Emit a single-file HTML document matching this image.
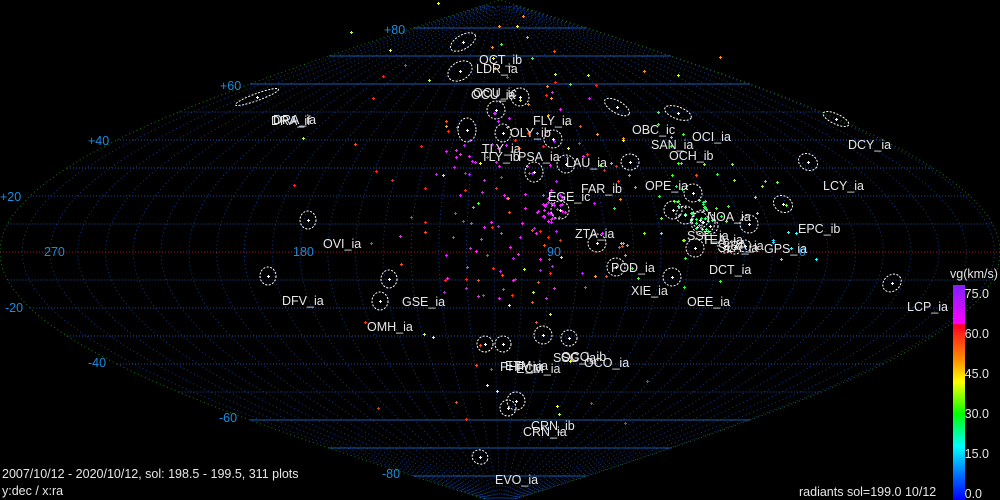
<!DOCTYPE html>
<html><head><meta charset="utf-8"><style>
html,body{margin:0;padding:0;background:#000;width:1000px;height:500px;overflow:hidden}
svg{display:block}
text{font-family:"Liberation Sans",sans-serif;font-size:12.5px}
.l{fill:#e6e6e6}
.d{fill:#1a8ce0}
</style></head><body>
<svg id="s" width="1000" height="500" viewBox="0 0 1000 500" xmlns="http://www.w3.org/2000/svg">
<rect width="1000" height="500" fill="#000"/>
<g id="grid"></g>
<g id="pts"></g>
<g id="ell" fill="none" stroke="#fff" stroke-width="1" stroke-dasharray="2 1.5"></g>
<g class="d">
<text x="384" y="34">+80</text><text x="220" y="90">+60</text><text x="88" y="145">+40</text><text x="0" y="201">+20</text>
<text x="5" y="312">-20</text><text x="88" y="367">-40</text><text x="219" y="422">-60</text><text x="382" y="478">-80</text>
<text x="44" y="256">270</text><text x="293" y="256">180</text><text x="547" y="256">90</text><text x="799" y="256">0</text>
</g>
<g class="l">
<text x="479" y="64">OCT_ib</text><text x="476" y="73">LDR_ia</text>
<text x="471" y="99">OCU_ia</text><text x="473" y="97">OCU_ic</text>
<text x="271" y="125">DRA_if</text><text x="273" y="124">DRA_ia</text>
<text x="533" y="125">FLY_ia</text><text x="510" y="137">OLY_ib</text>
<text x="632" y="134">OBC_ic</text><text x="692" y="141">OCI_ia</text><text x="651" y="149">SAN_ia</text>
<text x="482" y="153">TLY_ia</text><text x="848" y="149">DCY_ia</text><text x="669" y="160">OCH_ib</text>
<text x="481" y="161">TLY_ib</text><text x="518" y="161">PSA_ia</text><text x="566" y="167">LAU_ia</text>
<text x="581" y="193">FAR_ib</text><text x="823" y="190">LCY_ia</text><text x="645" y="190">OPE_ia</text>
<text x="548" y="201">EGE_ic</text><text x="707" y="221">NOA_ia</text><text x="798" y="233">EPC_ib</text>
<text x="575" y="238">ZTA_ia</text><text x="687" y="240">SSE_ia</text><text x="702" y="244">TEA_ia</text>
<text x="323" y="248">OVI_ia</text><text x="764" y="253">GPS_ia</text><text x="718" y="252">SLA_ia</text><text x="722" y="250">SSA_ia</text>
<text x="611" y="272">POD_ia</text><text x="709" y="274">DCT_ia</text><text x="631" y="295">XIE_ia</text>
<text x="282" y="305">DFV_ia</text><text x="402" y="306">GSE_ia</text><text x="687" y="306">OEE_ia</text><text x="907" y="311">LCP_ia</text>
<text x="367" y="331">OMH_ia</text><text x="553" y="362">SSG_ia</text><text x="561" y="361">OCO_ib</text><text x="584" y="367">OCO_ia</text>
<text x="500" y="371">PHP_ia</text><text x="505" y="370">ETM_ia</text><text x="516" y="373">ECM_ia</text>
<text x="531" y="430">CRN_ib</text><text x="523" y="436">CRN_ia</text><text x="495" y="484">EVO_ia</text>
<text x="2" y="478">2007/10/12 - 2020/10/12,  sol: 198.5 - 199.5, 311 plots</text>
<text x="2" y="495">y:dec / x:ra</text>
<text x="799" y="496">radiants sol=199.0 10/12</text>
<text x="950" y="278">vg(km/s)</text>
<text x="957" y="298">- 75.0</text><text x="957" y="338">- 60.0</text><text x="957" y="378">- 45.0</text>
<text x="957" y="418">- 30.0</text><text x="957" y="458">- 15.0</text><text x="957" y="498">- 0.0</text>
</g>
<defs><linearGradient id="cb" x1="0" y1="0" x2="0" y2="1">
<stop offset="0" stop-color="#8020ff"/><stop offset="0.18" stop-color="#ff00ff"/><stop offset="0.185" stop-color="#ff0020"/>
<stop offset="0.35" stop-color="#ff9000"/><stop offset="0.45" stop-color="#ffff00"/><stop offset="0.6" stop-color="#00ff00"/>
<stop offset="0.75" stop-color="#00ffff"/><stop offset="0.9" stop-color="#0060ff"/><stop offset="1" stop-color="#0000ff"/>
</linearGradient></defs>
<rect x="953" y="285" width="12" height="215" fill="url(#cb)"/>
</svg>
<script>
var NS="http://www.w3.org/2000/svg";
function el(p,t,a){var e=document.createElementNS(NS,t);for(var k in a)e.setAttribute(k,a[k]);p.appendChild(e);return e;}
var g=document.getElementById("grid");
function X(ra,dec){var o=ra-108;while(o>180)o-=360;while(o<-180)o+=360;return 500-o*2.778*Math.cos(dec*Math.PI/180);}
function Y(dec){return 252-dec*2.8;}
for(var d=-80;d<=80;d+=10){var w=500*Math.cos(d*Math.PI/180);
 if(d==0){el(g,"line",{x1:500-w,x2:500+w,y1:252,y2:252,stroke:"#b01515","stroke-dasharray":"1 2"});continue;}
 if(Math.abs(d)>=60) el(g,"line",{x1:500-w,x2:500+w,y1:Y(d),y2:Y(d),stroke:"#1a5aa8","stroke-width":1});
 else el(g,"line",{x1:500-w,x2:500+w,y1:Y(d),y2:Y(d),stroke:"#1450a8","stroke-dasharray":"1 2"});}
for(var ra=0;ra<360;ra+=10){var pts=[];for(var dd=-88;dd<=88;dd+=2)pts.push(X(ra,dd).toFixed(1)+","+Y(dd).toFixed(1));
 el(g,"polyline",{points:pts.join(" "),fill:"none",stroke:"#10409a","stroke-dasharray":"1 3","stroke-width":0.9});}
["l","r"].forEach(function(s){var pts=[];for(var dd=-90;dd<=90;dd+=1){var w=500*Math.cos(dd*Math.PI/180);pts.push((s=="l"?500-w:500+w).toFixed(1)+","+Y(dd).toFixed(1));}
 el(g,"polyline",{points:pts.join(" "),fill:"none",stroke:"#157a15","stroke-dasharray":"1 3"});});
var seed=7;function r(){seed=(seed*16807)%2147483647;return seed/2147483647;}
var P=document.getElementById("pts");
function plus(x,y,c){el(P,"path",{d:"M"+(x-1.5)+" "+y+"h3M"+x+" "+(y-1.5)+"v3",stroke:c,"stroke-width":1});}
function cl(n,cx,cy,sx,sy,cols){for(var i=0;i<n;i++){var x=cx+(r()+r()+r()-1.5)*sx,y=cy+(r()+r()+r()-1.5)*sy;plus(Math.round(x)+.5,Math.round(y)+.5,cols[Math.floor(r()*cols.length)]);}}
cl(90,505,195,80,100,["#e020ff","#c020ff","#ff20ff"]);
cl(30,552,208,12,14,["#ff20ff","#e020ff"]);
cl(70,500,220,160,160,["#ff2020","#ff5010","#ff3000"]);
cl(25,560,120,120,120,["#ff9010","#ffa020"]);
cl(45,680,200,90,80,["#20ff40","#40ff20","#80ff20"]);
cl(25,700,215,20,15,["#20ff60","#40ff80"]);
cl(25,500,90,200,120,["#ffff20","#c0ff20","#40ff40"]);
cl(8,780,250,40,40,["#20ffff","#20e0ff"]);
cl(12,520,340,120,80,["#ffff20","#c0ff20"]);
var E=[[463,42,14,7,-30],[460,71,13,9,-30],[257,97,23,3.5,-20],[467,130,9,12,0],[496,110,9,9,0],[520,97,9,9,0],[503,133,8,9,0],[553,139,9,9,0],[566,164,9,9,0],[534,172,9,10,0],[560,210,9,9,0],[617,107,14,6,30],[678,113,14,6,20],[630,162,9,8,0],[693,193,9,9,0],[673,210,9,9,0],[685,215,9,9,0],[700,220,8,8,0],[703,222,12,12,0],[710,226,8,8,0],[749,224,9,9,0],[783,204,10,8,30],[808,162,10,8,30],[836,119,14,5,25],[695,248,9,9,0],[597,243,9,9,0],[616,267,9,9,0],[672,277,9,9,0],[892,283,10,8,-40],[543,335,9,9,0],[569,338,8,8,0],[503,344,8,8,0],[485,344,8,8,0],[516,401,9,9,0],[508,408,8,8,0],[480,457,8,7,20],[308,220,8,9,0],[268,276,8,9,0],[389,279,8,9,0],[380,301,8,9,0],[725,246,7,7,0],[735,247,7,7,0],[745,246,6,6,0]];
var EG=document.getElementById("ell");
E.forEach(function(e){el(EG,"ellipse",{cx:e[0],cy:e[1],rx:e[2],ry:e[3],transform:"rotate("+e[4]+" "+e[0]+" "+e[1]+")"});plus(e[0]+.5,e[1]+.5,"#fff");});
</script>
</body></html>
